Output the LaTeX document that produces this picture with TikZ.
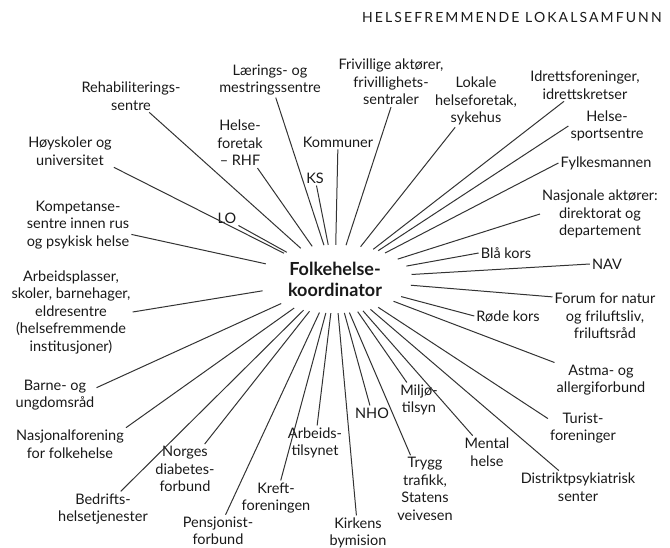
\documentclass[tikz,border=0pt]{standalone}
\usepackage{fontspec}
\setmainfont{Lato}
\newfontfamily\headfont[LetterSpace=15]{Lato}
\usetikzlibrary{shapes.geometric}

\begin{document}
\begin{tikzpicture}[x=1pt,y=-1pt,
  lbl/.style={align=center,inner sep=2pt,text=black!90,font=\fontsize{14.5}{17.5}\selectfont},
  spoke/.style={black!80,line width=1pt}]
  \useasboundingbox (0,0) rectangle (670,548);
  % title and hub
  \node [anchor=base west,inner sep=0pt,text=black!90,font=\headfont\fontsize{14}{16}\selectfont] (head) at (362,23) {HELSEFREMMENDE LOKALSAMFUNN};
  \node [ellipse,minimum width=154pt,minimum height=68pt,inner sep=0pt,align=center,text=black!90,font=\bfseries\fontsize{18}{21}\selectfont] (hub) at (335,279) {Folkehelse-\\koordinator};
  % partners, clockwise from the top
  \node [lbl] (lm) at (270,80) {Lærings- og\\mestringssentre};
  \node [lbl] (ks) at (315,178) {KS};
  \node [lbl] (kom) at (338,142) {Kommuner};
  \node [lbl] (friv) at (391,82) {Frivillige aktører,\\frivillighets-\\sentraler};
  \node [lbl] (lok) at (476,101) {Lokale\\helseforetak,\\sykehus};
  \node [lbl] (idr) at (585,85) {Idrettsforeninger,\\idrettskretser};
  \node [lbl] (hsp) at (607,126) {Helse-\\sportsentre};
  \node [lbl] (fylk) at (606,163) {Fylkesmannen};
  \node [lbl] (nasj) at (600,214) {Nasjonale aktører:\\direktorat og\\departement};
  \node [lbl] (bla) at (506,253) {Blå kors};
  \node [lbl] (nav) at (607,264) {NAV};
  \node [lbl] (forum) at (605,316) {Forum for natur\\og friluftsliv,\\friluftsråd};
  \node [lbl] (rode) at (508,316) {Røde kors};
  \node [lbl] (astma) at (601,380) {Astma- og\\allergiforbund};
  \node [lbl] (tur) at (583,428) {Turist-\\foreninger};
  \node [lbl] (dps) at (578,487) {Distriktpsykiatrisk\\senter};
  \node [lbl] (ment) at (487,452) {Mental\\helse};
  \node [lbl] (trygg) at (425,489) {Trygg\\trafikk,\\Statens\\veivesen};
  \node [lbl] (milj) at (419,400) {Miljø-\\tilsyn};
  \node [lbl] (nho) at (372,413) {NHO};
  \node [lbl] (kirk) at (358,533) {Kirkens\\bymision};
  \node [lbl] (atil) at (315,443) {Arbeids-\\tilsynet};
  \node [lbl] (kreft) at (276,498) {Kreft-\\foreningen};
  \node [lbl] (pens) at (218,531) {Pensjonist-\\forbund};
  \node [lbl] (diab) at (185,469) {Norges\\diabetes-\\forbund};
  \node [lbl] (bedr) at (103,509) {Bedrifts-\\helsetjenester};
  \node [lbl] (nfor) at (70,444) {Nasjonalforening\\for folkehelse};
  \node [lbl] (barn) at (55,395) {Barne- og\\ungdomsråd};
  \node [lbl] (arbp) at (71,312) {Arbeidsplasser,\\skoler, barnehager,\\eldresentre\\(helsefremmende\\institusjoner)};
  \node [lbl] (komp) at (78,225) {Kompetanse-\\sentre innen rus\\og psykisk helse};
  \node [lbl] (lo) at (227,218) {LO};
  \node [lbl] (hys) at (70,151) {Høyskoler og\\universitet};
  \node [lbl] (rhf) at (240,143) {Helse-\\foretak\\– RHF};
  \node [lbl] (rehab) at (131,96) {Rehabiliterings-\\sentre};
  % spokes
  \draw [spoke] (hub) -- (lm);
  \draw [spoke] (hub) -- (ks);
  \draw [spoke] (hub) -- (kom);
  \draw [spoke] (hub) -- (friv.south);
  \draw [spoke] (hub) -- (lok);
  \draw [spoke] (hub) -- (idr);
  \draw [spoke] (hub) -- (hsp.west);
  \draw [spoke] (hub) -- (fylk.west);
  \draw [spoke] (hub) -- (nasj.west);
  \draw [spoke] (hub) -- (bla.west);
  \draw [spoke] (hub) -- (nav.west);
  \draw [spoke] (hub) -- (forum.160);
  \draw [spoke] (hub) -- (rode.west);
  \draw [spoke] (hub) -- (astma.north west);
  \draw [spoke] (hub) -- (tur.165);
  \draw [spoke] (hub) -- (dps);
  \draw [spoke] (hub) -- (ment);
  \draw [spoke] (hub) -- (trygg);
  \draw [spoke] (hub) -- (milj);
  \draw [spoke] (hub) -- (nho);
  \draw [spoke] (hub) -- (kirk);
  \draw [spoke] (hub) -- (atil);
  \draw [spoke] (hub) -- (kreft);
  \draw [spoke] (hub) -- (pens);
  \draw [spoke] (hub) -- (diab);
  \draw [spoke] (hub) -- (bedr);
  \draw [spoke] (hub) -- (nfor.north east);
  \draw [spoke] (hub) -- (barn.10);
  \draw [spoke] (hub) -- (arbp.east);
  \draw [spoke] (hub) -- (komp.-10);
  \draw [spoke] (hub) -- (lo.south east);
  \draw [spoke] (hub) -- (hys.south east);
  \draw [spoke] (hub) -- (rhf);
  \draw [spoke] (hub) -- (rehab);
\end{tikzpicture}
\end{document}
